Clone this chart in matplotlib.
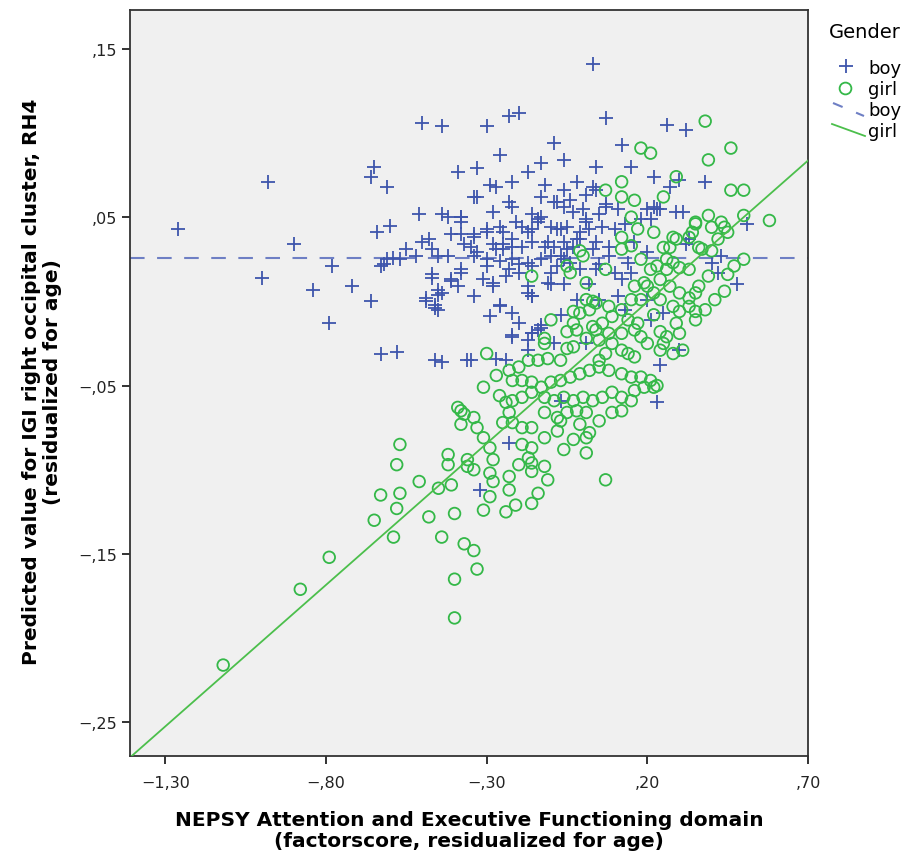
import matplotlib
matplotlib.use("Agg")
import matplotlib.pyplot as plt
from matplotlib.lines import Line2D
from matplotlib.ticker import FuncFormatter

# boys (+)
boy_x = [-1.26, -0.98, -0.90, -1.00, -0.84, -0.78, -0.72, -0.66, -0.50, -0.44,
         -0.65, -0.66, -0.61, -0.39, -0.51, -0.44, -0.42, -0.38, -0.60, -0.64,
         -0.41, -0.38, -0.50, -0.48, -0.55, -0.47, -0.45, -0.37, -0.59, -0.57,
         -0.61, -0.63, -0.47, -0.47, -0.38, -0.38, -0.41, -0.39, -0.45, -0.44,
         -0.49, -0.46, -0.79, -0.63, -0.58, -0.46, -0.44, -0.36, -0.49, -0.46,
         0.03, -0.23, -0.20, -0.30, 0.07, 0.26, 0.32, -0.09, 0.12, -0.26,
         -0.13, -0.06, 0.04, 0.15, -0.33, -0.17, 0.22, 0.30, 0.38, -0.22,
         -0.29, -0.27, -0.02, 0.04, -0.06, -0.34, -0.33, -0.13, -0.23, -0.08,
         -0.28, -0.38, 0.07, 0.23, 0.29, 0.31, 0.51, 0.03, -0.09, -0.22,
         -0.21, -0.16, -0.14, -0.13, -0.06, -0.03, 0.00, 0.01, -0.34, -0.30,
         -0.25, -0.19, -0.16, -0.10, -0.07, -0.05, -0.01, 0.02, -0.42, -0.52,
         -0.35, -0.33, -0.28, -0.27, -0.25, -0.22, -0.19, -0.16, -0.12, -0.09,
         -0.06, -0.03, -0.01, -0.62, -0.30, -0.26, -0.22, -0.20, -0.16, -0.13,
         -0.10, -0.08, -0.06, -0.04, -0.31, -0.28, -0.24, -0.20, -0.41, -0.45,
         -0.45, -0.34, -0.17, -0.16, -0.10, -0.26, -0.22, -0.29, -0.20, -0.22,
         -0.16, -0.13, 0.27, 0.07, 0.11, 0.20, 0.22, 0.24, 0.18, 0.21,
         0.33, 0.32, 0.08, 0.40, 0.42, 0.43, 0.48, 0.15, 0.12, 0.10,
         0.21, -0.27, -0.24, -0.22, -0.17, -0.16, -0.14, -0.13, -0.17, -0.09,
         0.01, 0.25, 0.30, 0.24, 0.23, -0.07, -0.35, -0.23, -0.32, -0.38,
         -0.34, -0.30, -0.26, -0.22, -0.17, -0.14, -0.11, -0.08, -0.05, -0.02,
         0.01, 0.04, 0.06, 0.08, -0.34, -0.30, -0.25, -0.23, -0.17, -0.10,
         -0.07, 0.03, 0.04, -0.28, -0.26, -0.16, -0.11, 0.14, 0.16, 0.20,
         0.11, 0.20, -0.17, 0.10, 0.13, 0.05, -0.04, 0.01, -0.12, -0.01,
         0.02, 0.05, -0.06, -0.02, -0.07, 0.05, 0.13]
boy_y = [0.043, 0.071, 0.034, 0.014, 0.007, 0.021, 0.009, 0.000, 0.106, 0.104,
         0.080, 0.074, 0.068, 0.077, 0.052, 0.052, 0.050, 0.050, 0.045, 0.041,
         0.040, 0.040, 0.035, 0.037, 0.031, 0.031, 0.027, 0.034, 0.026, 0.025,
         0.025, 0.021, 0.016, 0.014, 0.019, 0.017, 0.012, 0.009, 0.007, 0.005,
         0.002, -0.002, -0.013, -0.031, -0.030, -0.035, -0.036, -0.035, 0.000, -0.004,
         0.141, 0.110, 0.112, 0.104, 0.109, 0.105, 0.102, 0.094, 0.093, 0.087,
         0.082, 0.084, 0.080, 0.080, 0.079, 0.077, 0.074, 0.072, 0.071, 0.071,
         0.069, 0.068, 0.071, 0.066, 0.066, 0.062, 0.062, 0.062, 0.059, 0.059,
         0.053, 0.050, 0.058, 0.055, 0.053, 0.053, 0.046, 0.068, 0.059, 0.056,
         0.047, 0.052, 0.049, 0.050, 0.056, 0.053, 0.055, 0.049, 0.040, 0.041,
         0.041, 0.044, 0.043, 0.044, 0.043, 0.044, 0.041, 0.043, 0.027, 0.027,
         0.032, 0.029, 0.034, 0.031, 0.034, 0.032, 0.032, 0.035, 0.032, 0.032,
         0.035, 0.032, 0.037, 0.022, 0.025, 0.024, 0.025, 0.022, 0.021, 0.025,
         0.027, 0.021, 0.025, 0.023, 0.013, 0.011, 0.015, 0.017, 0.013, 0.004,
         -0.005, 0.003, 0.005, 0.003, 0.010, -0.003, -0.007, -0.009, -0.013, -0.020,
         -0.019, -0.016, 0.068, 0.056, 0.055, 0.055, 0.056, 0.055, 0.049, 0.049,
         0.037, 0.034, 0.032, 0.023, 0.017, 0.027, 0.010, 0.017, 0.013, 0.017,
         -0.011, -0.034, -0.035, -0.021, -0.023, -0.019, -0.017, -0.014, -0.029, -0.025,
         -0.025, -0.007, -0.029, -0.038, -0.060, -0.059, -0.035, -0.084, -0.112, 0.047,
         0.038, 0.043, 0.044, 0.037, 0.041, 0.047, 0.035, 0.043, 0.031, 0.037,
         0.047, 0.035, 0.044, 0.027, 0.027, 0.021, 0.031, 0.019, 0.023, 0.017,
         0.027, 0.031, 0.019, 0.009, -0.002, 0.003, 0.011, 0.023, 0.035, 0.029,
         0.003, 0.001, 0.009, 0.043, 0.046, 0.052, 0.060, 0.063, 0.069, 0.019,
         0.010, 0.022, 0.010, 0.001, -0.008, 0.001, -0.005]

# girls (o)
girl_x = [-1.12, -0.88, -0.79, -0.39, -0.37, -0.38, -0.57, -0.58, -0.42, -0.42,
          -0.51, -0.45, -0.41, -0.63, -0.57, -0.58, -0.65, -0.59, -0.48, -0.40,
          -0.44, -0.37, -0.36, -0.36, -0.40, -0.40, -0.34, -0.33, -0.30, -0.31,
          -0.38, -0.34, -0.33, -0.31, -0.29, -0.34, -0.28, -0.29, -0.28, -0.23,
          -0.14, -0.16, -0.21, -0.24, -0.19, -0.16, -0.17, -0.16, -0.12, -0.16,
          0.01, 0.07, -0.23, -0.20, -0.17, -0.14, -0.11, -0.22, -0.19, -0.16,
          -0.13, -0.10, -0.07, -0.04, -0.01, 0.02, 0.05, 0.08, 0.12, 0.15,
          0.18, 0.21, 0.22, 0.19, 0.16, 0.12, 0.09, 0.06, 0.03, 0.00,
          -0.03, -0.06, -0.09, -0.12, -0.16, -0.19, -0.22, 0.15, 0.12, 0.09,
          -0.24, -0.23, -0.25, -0.22, -0.19, -0.16, -0.12, -0.08, -0.05, -0.02,
          0.01, -0.01, 0.02, 0.01, -0.12, -0.08, -0.10, -0.12, -0.02, -0.05,
          0.01, 0.03, -0.03, -0.05, -0.01, 0.02, 0.04, 0.09, 0.12, 0.14,
          0.16, 0.18, 0.20, 0.08, 0.09, 0.12, 0.07, 0.05, 0.14, 0.16,
          0.24, 0.26, 0.30, 0.31, 0.28, 0.33, 0.35, 0.38, 0.23, 0.38,
          0.18, 0.21, 0.46, 0.39, 0.29, 0.12, 0.07, 0.46, 0.50, 0.12,
          0.16, 0.25, 0.15, 0.50, 0.58, 0.39, 0.35, 0.35, 0.43, 0.44,
          0.45, 0.40, 0.17, 0.22, 0.28, 0.29, 0.33, 0.34, 0.42, 0.12,
          0.37, 0.40, 0.50, 0.47, 0.45, 0.44, -0.16, 0.00, -0.05, -0.04,
          0.12, 0.07, 0.20, 0.25, 0.27, 0.36, 0.15, 0.26, 0.23, 0.26,
          0.28, 0.30, 0.39, 0.36, 0.35, 0.33, 0.16, 0.19, 0.22, 0.27,
          0.30, 0.28, 0.30, 0.35, 0.29, 0.17, 0.08, 0.06, 0.04, 0.12,
          -0.01, 0.01, 0.01, 0.03, -0.03, -0.03, -0.12, 0.24, 0.25, 0.18,
          0.21, 0.18, 0.24, 0.22, 0.15, 0.24, 0.33, 0.41, 0.05, -0.07,
          -0.26, -0.27, -0.07, -0.03, 0.05, -0.06, -0.11, -0.23, -0.20, -0.31,
          -0.29]
girl_y = [-0.216, -0.171, -0.152, -0.063, -0.067, -0.073, -0.085, -0.097, -0.091, -0.097,
          -0.107, -0.111, -0.109, -0.115, -0.114, -0.123, -0.130, -0.140, -0.128, -0.126,
          -0.140, -0.144, -0.094, -0.098, -0.165, -0.188, -0.148, -0.159, -0.031, -0.051,
          -0.065, -0.069, -0.075, -0.081, -0.087, -0.100, -0.094, -0.102, -0.107, -0.104,
          -0.114, -0.120, -0.121, -0.125, -0.085, -0.087, -0.093, -0.096, -0.098, -0.101,
          -0.090, -0.106, -0.041, -0.039, -0.035, -0.035, -0.034, -0.047, -0.047, -0.048,
          -0.051, -0.048, -0.047, -0.045, -0.043, -0.041, -0.039, -0.041, -0.043, -0.045,
          -0.045, -0.047, -0.051, -0.051, -0.053, -0.057, -0.054, -0.057, -0.059, -0.057,
          -0.059, -0.057, -0.059, -0.057, -0.054, -0.057, -0.059, -0.059, -0.065, -0.066,
          -0.060, -0.066, -0.072, -0.072, -0.075, -0.075, -0.066, -0.069, -0.066, -0.065,
          -0.066, -0.073, -0.078, -0.081, -0.081, -0.077, -0.011, -0.025, -0.017, -0.018,
          -0.022, -0.015, -0.027, -0.028, -0.007, -0.005, -0.001, -0.009, -0.005, -0.011,
          -0.017, -0.021, -0.025, -0.019, -0.025, -0.029, -0.031, -0.035, -0.031, -0.033,
          -0.018, -0.021, -0.019, -0.029, -0.031, -0.003, -0.006, -0.005, -0.050, 0.107,
          0.091, 0.088, 0.091, 0.084, 0.074, 0.071, 0.066, 0.066, 0.066, 0.062,
          0.060, 0.062, 0.050, 0.051, 0.048, 0.051, 0.047, 0.046, 0.047, 0.044,
          0.041, 0.044, 0.043, 0.041, 0.038, 0.037, 0.038, 0.041, 0.037, 0.038,
          0.031, 0.030, 0.025, 0.021, 0.016, 0.006, 0.015, 0.027, 0.021, 0.017,
          0.031, 0.019, 0.009, 0.032, 0.032, 0.032, 0.033, 0.025, 0.021, 0.019,
          0.023, 0.020, 0.015, 0.009, 0.005, 0.002, 0.009, 0.011, 0.005, 0.009,
          0.005, -0.003, -0.006, -0.011, -0.013, -0.013, -0.003, -0.013, -0.017, -0.019,
          0.030, 0.011, 0.001, 0.000, -0.006, -0.013, -0.022, -0.029, -0.025, 0.025,
          0.019, 0.001, 0.001, -0.008, 0.001, 0.013, 0.019, 0.001, -0.023, -0.035,
          -0.056, -0.044, -0.071, -0.082, -0.071, -0.088, -0.106, -0.112, -0.097, -0.124,
          -0.116]

# fitted lines: (intercept, slope)
boy_fit = (0.026, 0.0)
girl_fit = (-0.034, 0.168)

x_ticks = [-1.30, -0.80, -0.30, 0.20, 0.70]
y_ticks = [-0.25, -0.15, -0.05, 0.05, 0.15]
x_lim = (-1.41, 0.70)
y_lim = (-0.270, 0.173)

blue = "#3E55AC"
green = "#34B848"


def spss_fmt(v, pos=None):
    s = f"{v:.2f}".replace(".", ",")
    if s.startswith("0,"):
        s = s[1:]
    elif s.startswith("-0,"):
        s = "\u2212" + s[2:]
    elif s.startswith("-"):
        s = "\u2212" + s[1:]
    return s


fig = plt.figure(figsize=(9.11, 8.54), dpi=100)
ax = fig.add_axes([130 / 911, 1 - 757 / 854, 678 / 911, 746 / 854])
ax.set_facecolor("#F0F0F0")

ax.scatter(boy_x, boy_y, marker="+", s=95, linewidths=1.3, color=blue, zorder=3)
ax.scatter(girl_x, girl_y, marker="o", s=70, linewidths=1.3, facecolors="none",
           edgecolors=green, zorder=3)

ax.plot(x_lim, [boy_fit[0] + boy_fit[1] * v for v in x_lim], color="#6E7FC4",
        lw=1.5, dashes=(7, 6), zorder=2)
ax.plot(x_lim, [girl_fit[0] + girl_fit[1] * v for v in x_lim], color="#4CBF4C",
        lw=1.3, zorder=4)

ax.set_xlim(*x_lim)
ax.set_ylim(*y_lim)
ax.set_xticks(x_ticks)
ax.set_yticks(y_ticks)
ax.xaxis.set_major_formatter(FuncFormatter(spss_fmt))
ax.yaxis.set_major_formatter(FuncFormatter(spss_fmt))
ax.tick_params(direction="out", length=6, width=1.3, labelsize=11.5, colors="#222222")
ax.tick_params(axis="x", pad=8)
ax.tick_params(axis="y", pad=3)
for sp in ax.spines.values():
    sp.set_color("#333333")
    sp.set_linewidth(1.3)

fig.text(469 / 911, 1 - 831 / 854,
         "NEPSY Attention and Executive Functioning domain\n"
         "(factorscore, residualized for age)",
         fontsize=14.5, fontweight="bold", ha="center", va="center",
         linespacing=1.08)
fig.text(42 / 911, 1 - 382 / 854,
         "Predicted value for IGI right occipital cluster, RH4\n"
         "(residualized for age)",
         fontsize=14.5, fontweight="bold", ha="center", va="center",
         rotation=90, linespacing=1.12)

# legend (drawn by hand, SPSS style)
tf = fig.transFigure
fig.text(829 / 911, 1 - 33 / 854, "Gender", fontsize=14, va="center", ha="left")
fig.add_artist(Line2D([846 / 911], [1 - 67 / 854], marker="+", ms=10, mew=1.3,
                      color=blue, ls="none", transform=tf))
fig.text(868 / 911, 1 - 69 / 854, "boy", fontsize=13, va="center")
fig.add_artist(Line2D([845 / 911], [1 - 89 / 854], marker="o", ms=8.5, mew=1.3,
                      mfc="none", color=green, ls="none", transform=tf))
fig.text(868 / 911, 1 - 90 / 854, "girl", fontsize=13, va="center")
fig.add_artist(Line2D([833 / 911, 864 / 911], [1 - 104 / 854, 1 - 117 / 854],
                      color="#6E7FC4", lw=1.5, dashes=(5, 7), transform=tf))
fig.text(868 / 911, 1 - 111 / 854, "boy", fontsize=13, va="center")
fig.add_artist(Line2D([832 / 911, 865 / 911], [1 - 125 / 854, 1 - 137 / 854],
                      color="#4CBF4C", lw=1.3, transform=tf))
fig.text(868 / 911, 1 - 132 / 854, "girl", fontsize=13, va="center")

fig.savefig("out.png", dpi=100, facecolor="white")
